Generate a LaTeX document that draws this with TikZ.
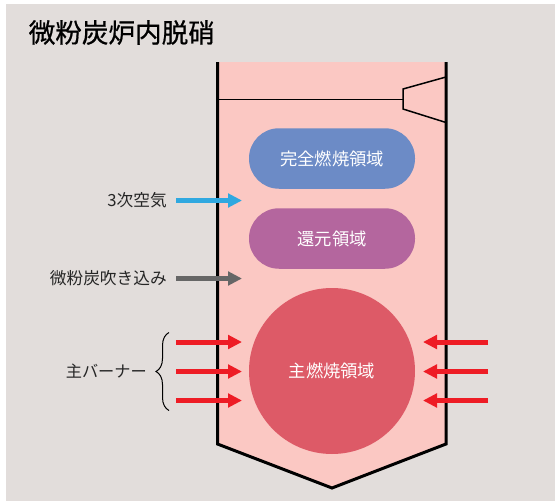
\documentclass[tikz,border=0pt]{standalone}
\usepackage{fontspec}
\setmainfont{Noto Sans CJK JP}
\newfontfamily\titlefont[FakeBold=0.7]{Noto Sans CJK JP}
\usetikzlibrary{arrows.meta,decorations.pathreplacing}
\definecolor{bgcol}{HTML}{E2DDDB}
\definecolor{furnace}{HTML}{FBC8C3}
\definecolor{bluezone}{HTML}{6C8BC6}
\definecolor{purplezone}{HTML}{B4669E}
\definecolor{redzone}{HTML}{DD5A67}
\definecolor{airblue}{HTML}{2FA8E0}
\definecolor{coalgray}{HTML}{666666}
\definecolor{burnerred}{HTML}{EE1C25}
\tikzset{
  zone/.style={rounded corners=30, minimum width=166, minimum height=60.5, inner sep=0, text=white, font=\fontsize{17.3}{20}\selectfont},
  feed/.style={line width=5, -{Triangle[length=14,width=13.5]}},
  side/.style={anchor=east, inner sep=0, text=black!85, font=\fontsize{16.7}{20}\selectfont},
  wall/.style={line width=3}
}
\begin{document}
\begin{tikzpicture}[x=1pt,y=-1pt]
    \useasboundingbox (0,0) rectangle (555,501);
    \fill[white] (0,0) rectangle (555,501);
    \fill[bgcol] (6,4) rectangle (555,501);
    \node[anchor=west, inner sep=0, font=\fontsize{26.6}{30}\selectfont\titlefont] (title) at (28.5,32.5) {微粉炭炉内脱硝};
    % furnace
    \coordinate (topl) at (217.5,62);
    \coordinate (topr) at (446,62);
    \coordinate (botl) at (217.5,444);
    \coordinate (botr) at (446,444);
    \coordinate (tip) at (332,488);
    \fill[furnace] (topl) -- (botl) -- (tip) -- (botr) -- (topr) -- cycle;
    \draw[wall, line join=miter] (topl) -- (botl) -- (tip) -- (botr) -- (topr);
    % nozzle
    \coordinate (noseup) at (403,89);
    \coordinate (nosedn) at (403,109);
    \coordinate (neck) at (403,99.5);
    \coordinate (wallA) at (217.5,99.5);
    \coordinate (wallB) at (446,77);
    \coordinate (wallC) at (446,122.5);
    \draw[line width=1.5] (wallA) -- (neck);
    \draw[line width=1.5] (wallB) -- (noseup) -- (nosedn) -- (wallC);
    % zones
    \node[zone, fill=bluezone] (burnout) at (332,158.5) {完全燃焼領域};
    \node[zone, fill=purplezone] (reburn) at (332,238.5) {還元領域};
    \node[zone, fill=redzone, circle, minimum size=166] (mainzone) at (332,371) {主燃焼領域};
    % labels
    \node[side] (air) at (167,200.5) {3次空気};
    \node[side] (coal) at (167,278.5) {微粉炭吹き込み};
    \node[side, font=\fontsize{16.2}{20}\selectfont] (burner) at (147,371.5) {主バーナー};
    % arrows
    \coordinate (airs) at (176,200.5);
    \coordinate (aire) at (242,200.5);
    \coordinate (coals) at (176,278.5);
    \coordinate (coale) at (242,278.5);
    \draw[feed, airblue] (airs) -- (aire);
    \draw[feed, coalgray] (coals) -- (coale);
    \foreach \n/\y in {a/342,b/371.5,c/400.5}{
        \coordinate (ls\n) at (176,\y);
        \coordinate (le\n) at (242,\y);
        \coordinate (rs\n) at (488,\y);
        \coordinate (re\n) at (423,\y);
        \draw[feed, burnerred] (ls\n) -- (le\n);
        \draw[feed, burnerred] (rs\n) -- (re\n);
    }
    % brace
    \coordinate (brtop) at (169,332.5);
    \coordinate (brbot) at (169,410.5);
    \draw[line width=1, decorate, decoration={brace, amplitude=13, aspect=0.5}] (brbot) -- (brtop);
\end{tikzpicture}
\end{document}
